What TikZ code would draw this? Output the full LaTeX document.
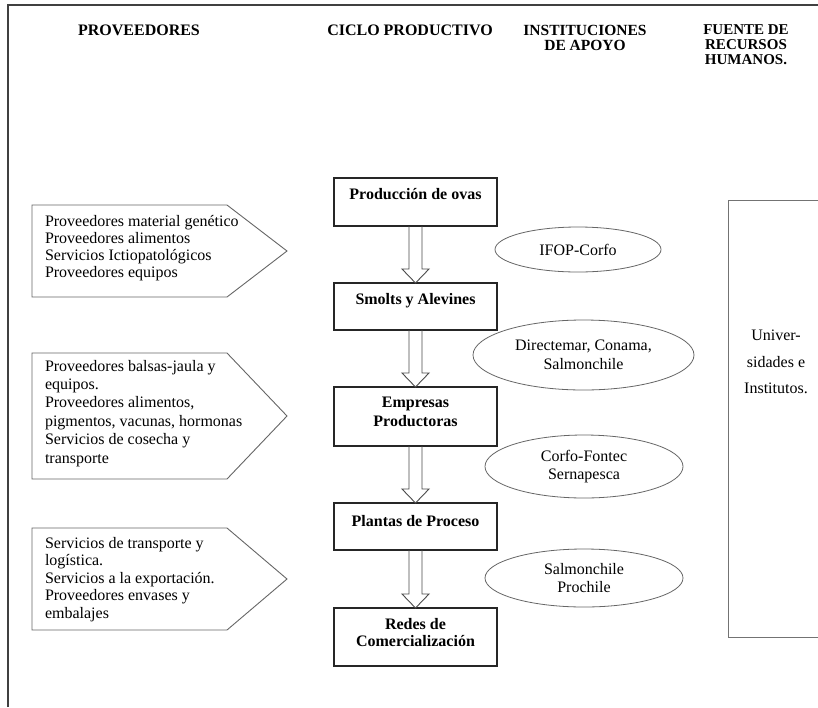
\documentclass[tikz,border=0pt]{standalone}
\usepackage{fontspec}
\setmainfont{Liberation Serif}
\usetikzlibrary{shapes.geometric,calc}
\newcommand{\hollowarr}[2]{%
  \draw[harrow] ($(#1.south)+(-6.5,0)$) -- ($(#2.north)+(-6.5,-14)$) -- ($(#2.north)+(-13.5,-14)$) -- (#2.north)
    -- ($(#2.north)+(13.5,-14)$) -- ($(#2.north)+(6.5,-14)$) -- ($(#1.south)+(6.5,0)$);}
\begin{document}
\begin{tikzpicture}[x=1pt,y=-1pt,
  every node/.style={inner sep=0pt, outer sep=0pt},
  hdr/.style={font=\fontsize{16}{15}\selectfont\bfseries, align=center, anchor=north},
  cbox/.style={draw=black!85, line width=1.1pt, minimum width=163pt, anchor=north},
  ctext/.style={font=\fontsize{16}{19}\selectfont\bfseries, align=center, anchor=north},
  ltext/.style={align=left, anchor=north west},
  penta/.style={draw=black!60, line width=0.9pt},
  inst/.style={ellipse, draw=black!60, line width=0.8pt, align=center, font=\fontsize{16}{18.5}\selectfont},
  harrow/.style={draw=black!70, line width=0.9pt},
  frameline/.style={draw=black!75, line width=1.6pt},
  rbox/.style={draw=black!55, line width=1pt},
]
\useasboundingbox (0,0) rectangle (818,707);
\fill[white] (0,0) rectangle (818,707);
% frame
\draw[frameline] (8,707) -- (8,5) -- (818,5);
% headers
\node[hdr] (hp) at (139,25) {PROVEEDORES};
\node[hdr] (hc) at (410,25) {CICLO PRODUCTIVO};
\node[hdr, font=\fontsize{15.5}{15.5}\selectfont\bfseries] (hi) at (585,25) {INSTITUCIONES\\DE APOYO};
\node[hdr, font=\fontsize{15}{15}\selectfont\bfseries] (hf) at (746,25) {FUENTE DE\\RECURSOS\\HUMANOS.};
% supplier arrows
\draw[penta] (32,205) -- (227,205) -- (287,251) -- (227,297) -- (32,297) -- cycle;
\draw[penta] (32,353) -- (227,353) -- (287,416) -- (227,479) -- (32,479) -- cycle;
\draw[penta] (32,528) -- (227,528) -- (287,579) -- (227,630) -- (32,630) -- cycle;
\node[ltext, font=\fontsize{16}{17}\selectfont] (p1) at (45,215)
  {Proveedores material genético\\Proveedores alimentos\\Servicios Ictiopatológicos\\Proveedores equipos};
\node[ltext, font=\fontsize{16}{18.4}\selectfont] (p2) at (45,360)
  {Proveedores balsas-jaula y\\equipos.\\Proveedores alimentos,\\pigmentos, vacunas, hormonas\\Servicios de cosecha y\\transporte};
\node[ltext, font=\fontsize{16}{17.5}\selectfont] (p3) at (45,537)
  {Servicios de transporte y\\logística.\\Servicios a la exportación.\\Proveedores envases y\\embalajes};
% production cycle
\node[cbox, minimum height=48pt] (b1) at (415.5,178) {};
\node[cbox, minimum height=47pt] (b2) at (415.5,283) {};
\node[cbox, minimum height=59pt] (b3) at (415.5,387) {};
\node[cbox, minimum height=47pt] (b4) at (415.5,503) {};
\node[cbox, minimum height=58pt] (b5) at (415.5,608) {};
\node[ctext] (t1) at ($(b1.north)+(0,10)$) {Producción de ovas};
\node[ctext] (t2) at ($(b2.north)+(0,10)$) {Smolts y Alevines};
\node[ctext] (t3) at ($(b3.north)+(0,10)$) {Empresas\\Productoras};
\node[ctext] (t4) at ($(b4.north)+(0,12)$) {Plantas de Proceso};
\node[ctext, font=\fontsize{16}{17}\selectfont\bfseries] (t5) at ($(b5.north)+(0,10)$) {Redes de\\Comercialización};
\hollowarr{b1}{b2}
\hollowarr{b2}{b3}
\hollowarr{b3}{b4}
\hollowarr{b4}{b5}
% institutions
\node[inst, minimum width=166pt, minimum height=45pt] (e1) at (578,249.5) {IFOP-Corfo};
\node[inst, minimum width=221pt, minimum height=70pt] (e2) at (583.5,355) {Directemar, Conama,\\Salmonchile};
\node[inst, minimum width=198pt, minimum height=63pt] (e3) at (584,466.5) {Corfo-Fontec\\Sernapesca};
\node[inst, minimum width=198pt, minimum height=58pt] (e4) at (584,578) {Salmonchile\\Prochile};
% human resources
\draw[rbox] (820,200) -- (728,200) -- (728,637) -- (820,637);
\node[font=\fontsize{16}{26.5}\selectfont, align=center, anchor=north] (rh) at (776,330) {Univer-\\sidades e\\Institutos.};
\end{tikzpicture}
\end{document}
